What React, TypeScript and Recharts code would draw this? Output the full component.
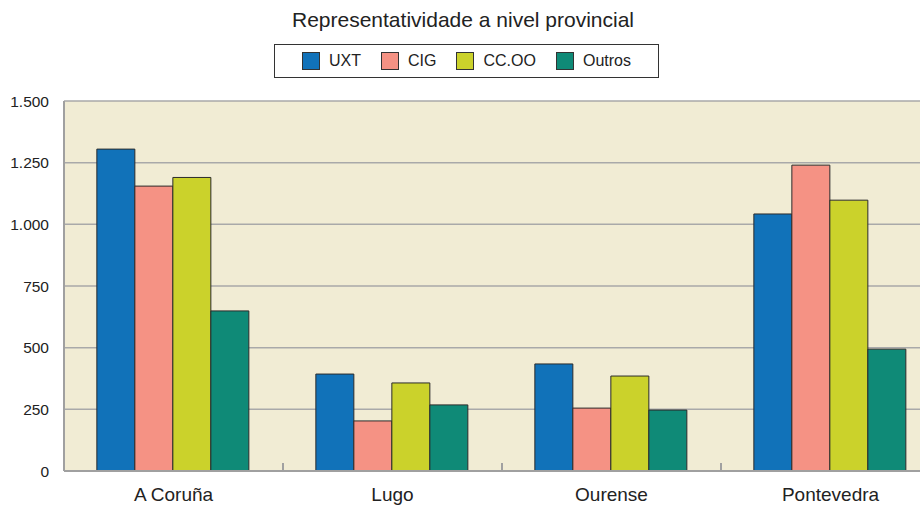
import { BarChart, Bar, XAxis, YAxis, CartesianGrid, Legend } from "recharts";

const provinces = ["A Coruña", "Lugo", "Ourense", "Pontevedra"];
const uxt = [1305, 393, 434, 1042];
const cig = [1155, 203, 255, 1240];
const ccoo = [1190, 357, 385, 1098];
const outros = [649, 268, 247, 494];
const yTicks = [0, 250, 500, 750, 1000, 1250, 1500];

const series = [
  { key: "uxt", name: "UXT", color: "#1172B9" },
  { key: "cig", name: "CIG", color: "#F59284" },
  { key: "ccoo", name: "CC.OO", color: "#CBD22B" },
  { key: "outros", name: "Outros", color: "#0F8A77" },
];

const data = provinces.map((name, i) => ({
  name,
  uxt: uxt[i],
  cig: cig[i],
  ccoo: ccoo[i],
  outros: outros[i],
}));

const fmt = (v: number) => String(v).replace(/\B(?=(\d{3})+(?!\d))/g, ".");

const font = "'Liberation Sans', Arial, sans-serif";
const X_TICK_MARGIN = 17;

// category label plus a short inward tick at the left edge of the band
function XTick(props: any) {
  const { x, y, payload, index } = props;
  const half = payload?.offset ?? 0;
  const axisY = y - X_TICK_MARGIN;
  return (
    <g>
      {index > 0 && (
        <line x1={x - half} x2={x - half} y1={axisY - 8} y2={axisY} stroke="#a0a0a0" strokeWidth={2} />
      )}
      <text x={x} y={y} dy="0.71em" textAnchor="middle" fill="#222" fontSize={19} fontFamily={font}>
        {payload.value}
      </text>
    </g>
  );
}

function LegendBox() {
  return (
    <div
      style={{
        display: "flex",
        alignItems: "center",
        justifyContent: "center",
        width: 383,
        height: 32,
        border: "1px solid #333",
        background: "#fff",
        fontFamily: font,
        fontSize: 16,
        color: "#222",
      }}
    >
      {series.map((s) => (
        <div key={s.key} style={{ display: "flex", alignItems: "center", margin: "0 10px" }}>
          <span
            style={{
              display: "inline-block",
              width: 18,
              height: 18,
              background: s.color,
              border: "1px solid #333",
              boxSizing: "border-box",
              marginRight: 9,
            }}
          />
          <span>{s.name}</span>
        </div>
      ))}
    </div>
  );
}

export default function App() {
  return (
    <div style={{ position: "absolute", left: 0, top: 0, width: 920, height: 507, overflow: "hidden", background: "#fff" }}>
      <div
        style={{
          position: "absolute",
          top: 8,
          left: 0,
          width: 926,
          textAlign: "center",
          fontFamily: font,
          fontSize: 21,
          color: "#222",
        }}
      >
        Representatividade a nivel provincial
      </div>
      <BarChart
        width={950}
        height={507}
        data={data}
        margin={{ top: 101, right: 10, left: 0, bottom: 0 }}
        barCategoryGap="15%"
        barGap={0}
      >
        <CartesianGrid vertical={false} stroke="#a9a9a9" strokeWidth={1.5} fill="#F1ECD4" fillOpacity={1} />
        <XAxis
          dataKey="name"
          height={36}
          tickSize={0}
          tickMargin={X_TICK_MARGIN}
          axisLine={{ stroke: "#a0a0a0", strokeWidth: 2 }}
          tickLine={false}
          tick={<XTick />}
        />
        <YAxis
          width={64}
          domain={[0, 1500]}
          ticks={yTicks}
          tickFormatter={fmt}
          tickSize={0}
          tickMargin={15}
          axisLine={{ stroke: "#a0a0a0", strokeWidth: 2 }}
          tickLine={false}
          tick={{ fill: "#222", fontSize: 15.5, fontFamily: font }}
        />
        <Legend
          verticalAlign="middle"
          align="center"
          wrapperStyle={{ top: 44, left: 274, width: 385 }}
          content={() => <LegendBox />}
        />
        {series.map((s) => (
          <Bar
            key={s.key}
            dataKey={s.key}
            name={s.name}
            fill={s.color}
            stroke="#2b2b2b"
            strokeWidth={1}
            isAnimationActive={false}
          />
        ))}
      </BarChart>
    </div>
  );
}
